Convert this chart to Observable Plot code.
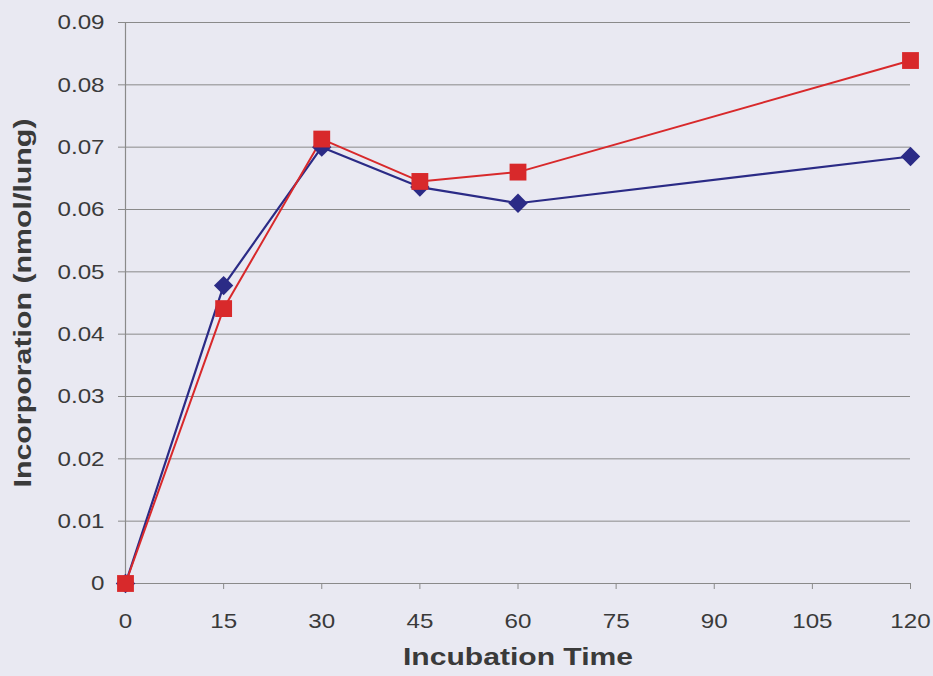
<!DOCTYPE html>
<html><head><meta charset="utf-8">
<script src="https://cdn.jsdelivr.net/npm/d3@7"></script>
<script src="https://cdn.jsdelivr.net/npm/@observablehq/plot@0.6"></script>
<style>
html,body{margin:0;padding:0;background:#e9e9f2;}
#chart svg{display:block;}
</style></head><body><div id="chart"></div>
<script>
const times = [0, 15, 30, 45, 60, 120];
const blueValues = [0, 0.0478, 0.0700, 0.0636, 0.0610, 0.0685];
const redValues = [0, 0.0441, 0.0713, 0.0645, 0.0660, 0.0839];
const xTicks = [0, 15, 30, 45, 60, 75, 90, 105, 120];
const yTicks = [0, 0.01, 0.02, 0.03, 0.04, 0.05, 0.06, 0.07, 0.08, 0.09];
const xLabel = "Incubation Time";
const yLabel = "Incorporation (nmol/lung)";

const blueRows = times.map((t, i) => ({t, v: blueValues[i]}));
const redRows = times.map((t, i) => ({t, v: redValues[i]}));

const grid = "#8a8a8a";
const txt = "#3a3a3a";
const blue = "#2b2b86";
const red = "#d8292b";

const chart = Plot.plot({
  width: 933,
  height: 676,
  marginLeft: 125,
  marginRight: 23,
  marginTop: 22,
  marginBottom: 93,
  style: {background: "transparent", fontFamily: "'Liberation Sans', Arial, sans-serif", fontSize: "21px", color: txt},
  x: {domain: [0, 120]},
  y: {domain: [0, 0.09]},
  marks: [
    Plot.gridY(yTicks, {stroke: grid, strokeOpacity: 1, strokeWidth: 1}),
    Plot.ruleX([0], {stroke: grid, strokeWidth: 1.2}),
    Plot.ruleY([0], {stroke: grid, strokeWidth: 1.2}),
    Plot.axisY(yTicks, {tickSize: 7, tickPadding: 14, stroke: grid, fill: txt, fontSize: 21, label: null,
      tickFormat: d => d === 0 ? "0" : d.toFixed(2)}),
    Plot.axisX(xTicks, {tickSize: 6, tickPadding: 24, stroke: grid, fill: txt, fontSize: 21, label: null,
      tickFormat: d => String(d)}),
    Plot.line(blueRows, {x: "t", y: "v", stroke: blue, strokeWidth: 2.2}),
    Plot.line(redRows, {x: "t", y: "v", stroke: red, strokeWidth: 2}),
    Plot.dot(blueRows, {x: "t", y: "v", symbol: "diamond2", r: 8.7, fill: blue, stroke: "none"}),
    Plot.dot(redRows, {x: "t", y: "v", symbol: "square", r: 9.5, fill: red, stroke: "none"}),
    Plot.text([yLabel], {text: d => d, frameAnchor: "left", rotate: -90, dx: -102, fontWeight: "bold",
      fontSize: 23, fill: txt, textAnchor: "middle", lineAnchor: "middle"}),
    Plot.text([xLabel], {text: d => d, frameAnchor: "bottom", dy: 74, fontWeight: "bold",
      fontSize: 23, fill: txt, textAnchor: "middle", lineAnchor: "middle"})
  ]
});
document.getElementById("chart").appendChild(chart);

function stretchText(t, len) {
  t.setAttribute("textLength", len);
  t.setAttribute("lengthAdjust", "spacingAndGlyphs");
}
chart.querySelectorAll("text").forEach(t => {
  const s = t.textContent;
  if (s === yLabel) stretchText(t, 369);
  else if (s === xLabel) stretchText(t, 230);
});
chart.querySelectorAll('g[aria-label="y-axis tick label"] text, g[aria-label="x-axis tick label"] text')
  .forEach(t => stretchText(t, t.getComputedTextLength() * 1.15));
</script>
</body></html>
